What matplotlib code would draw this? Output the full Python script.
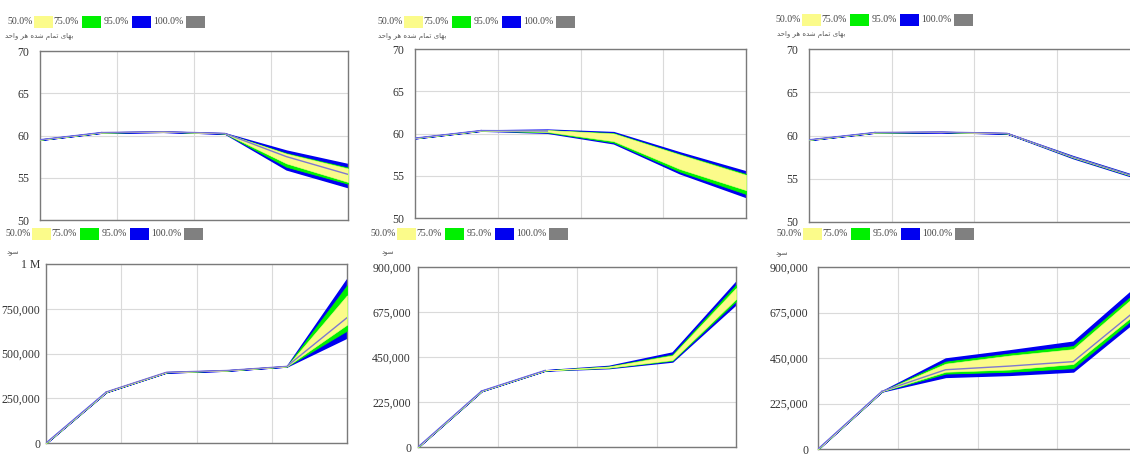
import matplotlib
matplotlib.use("Agg")
import matplotlib.pyplot as plt
from matplotlib.patches import Rectangle

# ---------------- data ----------------
t = [0, 1, 2, 3, 4, 5]

# Panel 1: unit cost (scenario 1)
p1_med  = [59.5, 60.35, 60.45, 60.25, 57.5, 55.4]
p1_hi95 = [59.5, 60.35, 60.45, 60.25, 58.2, 56.6]
p1_hi75 = [59.5, 60.35, 60.45, 60.25, 57.9, 56.2]
p1_hi50 = [59.5, 60.35, 60.45, 60.25, 57.85, 56.1]
p1_lo50 = [59.5, 60.35, 60.45, 60.25, 56.7, 54.5]
p1_lo75 = [59.5, 60.35, 60.45, 60.25, 56.3, 54.3]
p1_lo95 = [59.5, 60.35, 60.45, 60.25, 56.0, 53.9]

# Panel 2: unit cost (scenario 2)
p2_med  = [59.45, 60.35, 60.3, 59.5, 56.5, 54.2]
p2_hi95 = [59.45, 60.35, 60.45, 60.15, 57.75, 55.5]
p2_hi75 = [59.45, 60.35, 60.4, 60.05, 57.55, 55.2]
p2_hi50 = [59.45, 60.35, 60.4, 60.0, 57.5, 55.1]
p2_lo50 = [59.45, 60.35, 60.2, 59.1, 55.8, 53.3]
p2_lo75 = [59.45, 60.35, 60.15, 58.95, 55.5, 52.85]
p2_lo95 = [59.45, 60.35, 60.1, 58.85, 55.3, 52.5]

# Panel 3: unit cost (scenario 3)
p3_med  = [59.5, 60.35, 60.4, 60.25, 57.5, 55.1]
p3_hi95 = [59.5, 60.35, 60.4, 60.25, 57.6, 55.2]
p3_hi75 = [59.5, 60.35, 60.4, 60.25, 57.56, 55.16]
p3_hi50 = [59.5, 60.35, 60.4, 60.25, 57.53, 55.13]
p3_lo50 = [59.5, 60.35, 60.4, 60.25, 57.47, 55.07]
p3_lo75 = [59.5, 60.35, 60.4, 60.25, 57.44, 55.04]
p3_lo95 = [59.5, 60.35, 60.4, 60.25, 57.4, 55.0]

# Panel 4: profit (scenario 1)
p4_med  = [0, 285000, 395000, 405000, 428000, 700000]
p4_hi95 = [0, 285000, 395000, 405000, 428000, 915000]
p4_hi75 = [0, 285000, 395000, 405000, 428000, 880000]
p4_hi50 = [0, 285000, 395000, 405000, 428000, 825000]
p4_lo50 = [0, 285000, 395000, 405000, 428000, 661000]
p4_lo75 = [0, 285000, 395000, 405000, 428000, 628000]
p4_lo95 = [0, 285000, 395000, 405000, 428000, 590000]

# Panel 5: profit (scenario 2)
p5_med  = [0, 280000, 383000, 400000, 445000, 760000]
p5_hi95 = [0, 280000, 383000, 405000, 472000, 825000]
p5_hi75 = [0, 280000, 383000, 403000, 462000, 810000]
p5_hi50 = [0, 280000, 383000, 402000, 458000, 795000]
p5_lo50 = [0, 280000, 383000, 397000, 435000, 740000]
p5_lo75 = [0, 280000, 383000, 396000, 432000, 730000]
p5_lo95 = [0, 280000, 383000, 395000, 428000, 715000]

# Panel 6: profit (scenario 3)
p6_med  = [0, 285000, 392000, 410000, 432000, 690000]
p6_hi95 = [0, 285000, 447000, 487000, 530000, 805000]
p6_hi75 = [0, 285000, 432000, 472000, 509000, 780000]
p6_hi50 = [0, 285000, 422000, 462000, 494000, 765000]
p6_lo50 = [0, 285000, 382000, 393000, 420000, 675000]
p6_lo75 = [0, 285000, 373000, 382000, 400000, 660000]
p6_lo95 = [0, 285000, 357000, 367000, 384000, 640000]

cost_ticks = [50, 55, 60, 65, 70]
cost_labels = ["50", "55", "60", "65", "70"]
p4_ticks = [0, 250000, 500000, 750000, 1000000]
p4_labels = ["0", "250,000", "500,000", "750,000", "1 M"]
p56_ticks = [0, 225000, 450000, 675000, 900000]
p56_labels = ["0", "225,000", "450,000", "675,000", "900,000"]
legend_labels = ["50.0%", "75.0%", "95.0%", "100.0%"]

# Persian labels (pre-shaped, visual order)
cost_title = "\uFEAA\uFEA3\uFE8D\uFEED \uFEAE\uFEEB \uFEE9\uFEAA\uFEB7 \uFEE1\uFE8E\uFEE4\uFE97 \uFEEF\uFE8E\uFEEC\uFE91"
profit_title = "\uFEA9\uFEEE\uFEB3"

# ---------------- style ----------------
W, H = 1130, 455
YELLOW = "#fbfb8a"
GREEN = "#00f000"
BLUE = "#0000f0"
GRAY = "#808080"
MEDC = "#7f78d0"
SERIF = ["Liberation Serif", "DejaVu Serif"]

fig = plt.figure(figsize=(W / 100, H / 100), dpi=100)


def rect(l, r, tp, b):
    return [l / W, 1 - b / H, (r - l) / W, (b - tp) / H]


def legend(x0, yc):
    tx = [0, 46, 97, 146]
    bx = [27, 75, 125, 179]
    cols = [YELLOW, GREEN, BLUE, GRAY]
    for lab, a, b, c in zip(legend_labels, tx, bx, cols):
        fig.text((x0 + a) / W, 1 - yc / H, lab, fontsize=7.0, family=SERIF,
                 color="#444444", va="center", ha="left")
        fig.patches.append(Rectangle(((x0 + b) / W, 1 - (yc + 6) / H), 19 / W, 12 / H,
                                     transform=fig.transFigure, facecolor=c,
                                     edgecolor="none"))


def panel(pos, bands, med, ylim, ticks, labels, show_med, ttl, ttl_xy, leg_xy, pad):
    ax = fig.add_axes(rect(*pos))
    lo95, lo75, lo50, hi50, hi75, hi95 = bands
    ax.fill_between(t, lo95, hi95, color=BLUE, lw=1.2, edgecolor=BLUE, zorder=2)
    ax.fill_between(t, lo75, hi75, color=GREEN, lw=0.6, edgecolor=GREEN, zorder=3)
    ax.fill_between(t, lo50, hi50, color=YELLOW, lw=0.4, edgecolor=YELLOW, zorder=4)
    ax.plot(t[:2], med[:2], color="#6f6fe0", lw=1.0, zorder=5)
    if show_med:
        ax.plot(t[1:], med[1:], color=MEDC, lw=1.0, zorder=5)
    else:
        ax.plot(t[1:3], med[1:3], color="#6f6fe0", lw=1.0, zorder=5)
    ax.set_xlim(0, 5)
    ax.set_ylim(*ylim)
    ax.set_yticks(ticks)
    ax.set_yticklabels(labels, family=SERIF, fontsize=8.5, color="#333333")
    ax.set_xticks([1.25, 2.5, 3.75])
    ax.set_xticklabels([])
    ax.tick_params(length=0, pad=pad)
    ax.grid(True, color="#dadada", lw=0.8, zorder=0)
    ax.set_axisbelow(True)
    for s in ax.spines.values():
        s.set_color("#7a7a7a")
        s.set_linewidth(1.0)
    fig.text(ttl_xy[0] / W, 1 - ttl_xy[1] / H, ttl, fontsize=5,
             family=["DejaVu Sans"], color="#555555", va="center", ha="left")
    legend(*leg_xy)
    return ax


panel((40, 348, 51, 220), (p1_lo95, p1_lo75, p1_lo50, p1_hi50, p1_hi75, p1_hi95), p1_med,
      (50, 70), cost_ticks, cost_labels, True, cost_title, (5, 37), (7, 22), 8)
panel((415, 746, 49, 218), (p2_lo95, p2_lo75, p2_lo50, p2_hi50, p2_hi75, p2_hi95), p2_med,
      (50, 70), cost_ticks, cost_labels, False, cost_title, (378, 37), (377, 22), 8)
panel((809, 1139, 49, 222), (p3_lo95, p3_lo75, p3_lo50, p3_hi50, p3_hi75, p3_hi95), p3_med,
      (50, 70), cost_ticks, cost_labels, True, cost_title, (777, 35), (775, 20), 8)
panel((46, 347, 264, 443), (p4_lo95, p4_lo75, p4_lo50, p4_hi50, p4_hi75, p4_hi95), p4_med,
      (0, 1000000), p4_ticks, p4_labels, True, profit_title, (7, 252), (5, 234), 4)
panel((418, 736, 267, 447), (p5_lo95, p5_lo75, p5_lo50, p5_hi50, p5_hi75, p5_hi95), p5_med,
      (0, 900000), p56_ticks, p56_labels, False, profit_title, (382, 252), (370, 234), 5)
panel((818, 1137, 267, 449), (p6_lo95, p6_lo75, p6_lo50, p6_hi50, p6_hi75, p6_hi95), p6_med,
      (0, 900000), p56_ticks, p56_labels, True, profit_title, (776, 253), (776, 234), 7)

fig.savefig("out.png", dpi=100)
